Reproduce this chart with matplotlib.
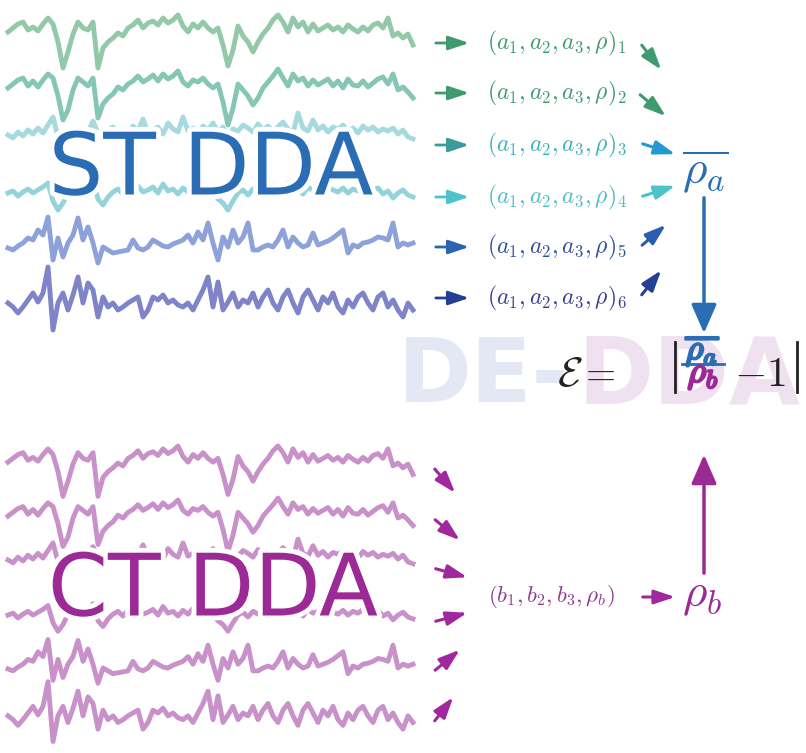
import numpy as np
import matplotlib
matplotlib.use('Agg')
import matplotlib.pyplot as plt
import matplotlib.patheffects as pe

plt.rcParams['mathtext.fontset'] = 'cm'

# trace amplitudes (pixels, up is positive), one per channel
trace1 = [3, 7, 11, 13, 5, 8, 4, 11, 17, 11, -7, -33, -17, 1, 13, 7, 5, 13, -33, -13,
          -7, -3, 2, -1, 7, 10, 15, 7, 12, 14, 10, 17, 12, 15, 20, 9, 3, 11, 7, 13,
          7, 3, 7, -10, -31, -15, 9, -1, -7, -17, -7, 1, 7, 15, 20, 13, 3, 17, 8, 13,
          3, 11, 4, 7, 10, 5, 8, 3, 10, 6, 3, 8, 4, 10, 12, 7, 17, -1, 2, -3, 1, -10]
trace2 = [2, 6, 10, 12, 4, 9, 3, 10, 16, 12, -6, -30, -20, 0, 12, 8, 4, 12, -28, -14,
          -8, -4, 3, 0, 6, 9, 14, 8, 11, 15, 9, 16, 11, 14, 19, 8, 4, 10, 8, 12,
          6, 2, 6, -12, -35, -18, 6, 0, -6, -15, -8, 2, 8, 14, 21, 12, 4, 16, 9, 12,
          4, 10, 5, 8, 11, 4, 9, 2, 11, 5, 4, 9, 3, 7, 11, 13, 6, 16, 0, 3, -2, -8]
trace3 = [0, -3, 3, -1, 5, 1, 7, 2, 10, 18, -2, -6, 2, 4, -1, 6, 3, 14, 2, -3,
          5, 8, 3, 6, 0, 9, 4, 16, 2, 5, 8, 1, 12, 6, 3, 18, 4, 7, 2, 9,
          5, 12, 3, 8, -2, 6, 4, 10, 7, 3, 11, 5, 9, 4, 8, 13, 6, 2, 22, 7,
          4, 15, 5, 9, 3, 8, 6, 10, 4, 7, 2, 9, 5, 8, 3, 6, 4, 7, 1, 5, -2, -4]
trace4 = [2, 4, -1, 3, 6, 2, 5, 8, 12, -6, -15, -8, 3, 6, 0, 10, 4, 14, -4, -10,
          -2, 3, 6, 1, 7, 4, 9, 3, 5, 8, 2, 11, 4, 6, 1, 7, 3, 9, 5, 2,
          6, 3, -4, -8, -15, -6, 2, 5, 0, 6, 3, 8, 4, 10, 2, 7, 12, 3, 5, 1,
          8, 4, 6, 2, 9, 5, 3, 7, 2, 6, 4, 8, 3, 5, 7, 1, 4, -3, 2, 5, 0, -2]
trace5 = [-1, -3, 1, 4, 9, 7, 17, 12, 30, -13, 9, -10, 4, 12, 29, 7, 20, 4, -16, 0,
          -3, -6, -5, -4, -3, 7, -1, -3, 0, 7, 4, 1, 0, 3, 5, 7, 12, 4, 15, 7,
          24, 4, -13, 10, 0, 17, 4, 10, 24, -3, -3, 0, 2, 0, 7, 17, 0, 10, 4, 0,
          2, 14, 2, 4, 6, 9, 13, 17, -6, 2, 0, 4, 5, 7, 10, 9, 7, 24, 0, 4, 2, 4]
trace6 = [-3, -7, -13, -7, 0, 7, -2, 7, 33, -30, -3, 7, -10, 5, 23, -3, 17, 10, -17, 3,
          -7, -3, -10, -7, -3, 0, 3, -17, -10, 3, 0, 5, -3, 0, -5, -7, -3, -10, 0, 10,
          23, -7, 18, -10, -2, 7, -7, 0, -3, 7, -7, 3, 10, -3, -10, 3, 10, -3, -13, 3,
          10, 0, -10, 3, -3, 7, -7, -13, 0, -7, 3, 7, -3, -10, 3, 7, -7, 0, -10, -17, -3, -10]
traces = [trace1, trace2, trace3, trace4, trace5, trace6]

st_colors = ['#93c9a8', '#86c6b4', '#a6dadf', '#94d3d9', '#8da2d8', '#7f83c8']
ct_color = '#c891c9'
st_base = [35, 90, 135, 195, 247, 300]
ct_base = [465, 518, 560, 617, 668, 713]

row_labels = [r'$(a_1, a_2, a_3, \rho)_%d$' % k for k in range(1, 7)]
label_colors = ['#3f9a6e', '#3f9a6e', '#3bb2b9', '#4cbfc4', '#2f4f98', '#3a3f8c']
arrow_colors = ['#3f9a70', '#3f9a70', '#3a9a9c', '#4cc3c8', '#2e63b0', '#243e96']
diag_colors = ['#3f9a70', '#3f9a70', '#1f9ad6', '#4cc3c8', '#2a5db0', '#253f96']

blue = '#2a6db5'
purple = '#9b2a96'

fig = plt.figure(figsize=(8.06, 7.53), dpi=100)
ax = fig.add_axes([0, 0, 1, 1])
ax.set_xlim(0, 806)
ax.set_ylim(753, 0)
ax.axis('off')

# signals
for tr, base, c in zip(traces, st_base, st_colors):
    x = np.linspace(8, 413, len(tr))
    ax.plot(x, base - np.array(tr), color=c, lw=3.5, solid_joinstyle='round', zorder=2)
for tr, base in zip(traces, ct_base):
    x = np.linspace(8, 413, len(tr))
    ax.plot(x, base - 0.95 * np.array(tr), color=ct_color, lw=3.5, solid_joinstyle='round', zorder=2)

halo = [pe.withStroke(linewidth=7, foreground='white')]
ax.text(211, 171, 'ST DDA', fontsize=62, color=blue, ha='center', va='center',
        path_effects=halo, zorder=5)
ax.text(213, 592, 'CT DDA', fontsize=62, color=purple, ha='center', va='center',
        path_effects=halo, zorder=5)

# watermark
ax.text(398, 377, 'DE-', fontsize=64, fontweight='bold', color='#e4e7f4', ha='left', va='center', zorder=1)
ax.text(578, 377, 'DDA', fontsize=66, fontweight='bold', color='#f0e1f1', ha='left', va='center', zorder=1)

# per-row arrows and labels
rows_y = [43, 93, 145, 197, 247, 298]
diag_start = [(640, 43), (638, 93), (640, 143), (640, 197), (640, 247), (640, 297)]
diag_end = [(663, 72), (668, 118), (678, 155), (678, 185), (668, 223), (663, 268)]
small = '-|>,head_length=0.9,head_width=0.3'
for i, y in enumerate(rows_y):
    ax.annotate('', xy=(472, y), xytext=(433, y),
                arrowprops=dict(arrowstyle=small, color=arrow_colors[i], lw=2, mutation_scale=14))
    ax.text(487, y, row_labels[i], fontsize=17, color=label_colors[i], ha='left', va='center')
    ax.annotate('', xy=diag_end[i], xytext=diag_start[i],
                arrowprops=dict(arrowstyle=small, color=diag_colors[i], lw=2.2, mutation_scale=14))

ax.text(705, 172, r'$\overline{\rho_a}$', fontsize=34, color=blue, ha='center', va='center')
ax.annotate('', xy=(704, 336), xytext=(704, 195),
            arrowprops=dict(arrowstyle='-|>,head_length=0.8,head_width=0.35', color=blue,
                            lw=2.5, mutation_scale=22))

# CT side
ct_start = [(433, 467), (433, 518), (433, 568), (433, 622), (433, 672), (433, 723)]
ct_end = [(457, 495), (462, 542), (470, 578), (470, 612), (462, 648), (455, 695)]
for s, e in zip(ct_start, ct_end):
    ax.annotate('', xy=e, xytext=s,
                arrowprops=dict(arrowstyle=small, color='#a0279e', lw=2.2, mutation_scale=14))
ax.text(488, 597, r'$(b_1, b_2, b_3, \rho_b)$', fontsize=16.5, color='#8e3a8e', ha='left', va='center')
ax.annotate('', xy=(678, 597), xytext=(640, 597),
            arrowprops=dict(arrowstyle=small, color='#a0279e', lw=2.2, mutation_scale=14))
ax.text(702, 596, r'$\rho_b$', fontsize=34, color=purple, ha='center', va='center')
ax.annotate('', xy=(704, 452), xytext=(704, 576),
            arrowprops=dict(arrowstyle='-|>,head_length=0.8,head_width=0.35', color=purple,
                            lw=2.5, mutation_scale=22))

# error formula
dark = '#222222'
ax.text(570, 374, r'$\mathcal{E}$', fontsize=30, color=dark, ha='center', va='center', zorder=4)
ax.text(597, 374, r'$=$', fontsize=28, color=dark, ha='center', va='center', zorder=4)
ax.plot([675, 675], [342, 392], color=dark, lw=2, zorder=4)
ax.plot([797, 797], [342, 392], color=dark, lw=2, zorder=4)
bold_b = [pe.withStroke(linewidth=1.8, foreground=blue)]
bold_p = [pe.withStroke(linewidth=1.8, foreground=purple)]
ax.text(703, 359, r'$\overline{\rho_a}$', fontsize=25, color=blue, ha='center', va='baseline',
        path_effects=bold_b, zorder=4)
ax.plot([682, 724], [364, 364], color=blue, lw=2, zorder=4)
ax.text(703, 382, r'$\rho_b$', fontsize=26, color=purple, ha='center', va='baseline',
        path_effects=bold_p, zorder=4)
ax.text(760, 374, r'$-1$', fontsize=30, color=dark, ha='center', va='center', zorder=4)

fig.savefig('out.png', dpi=100)
